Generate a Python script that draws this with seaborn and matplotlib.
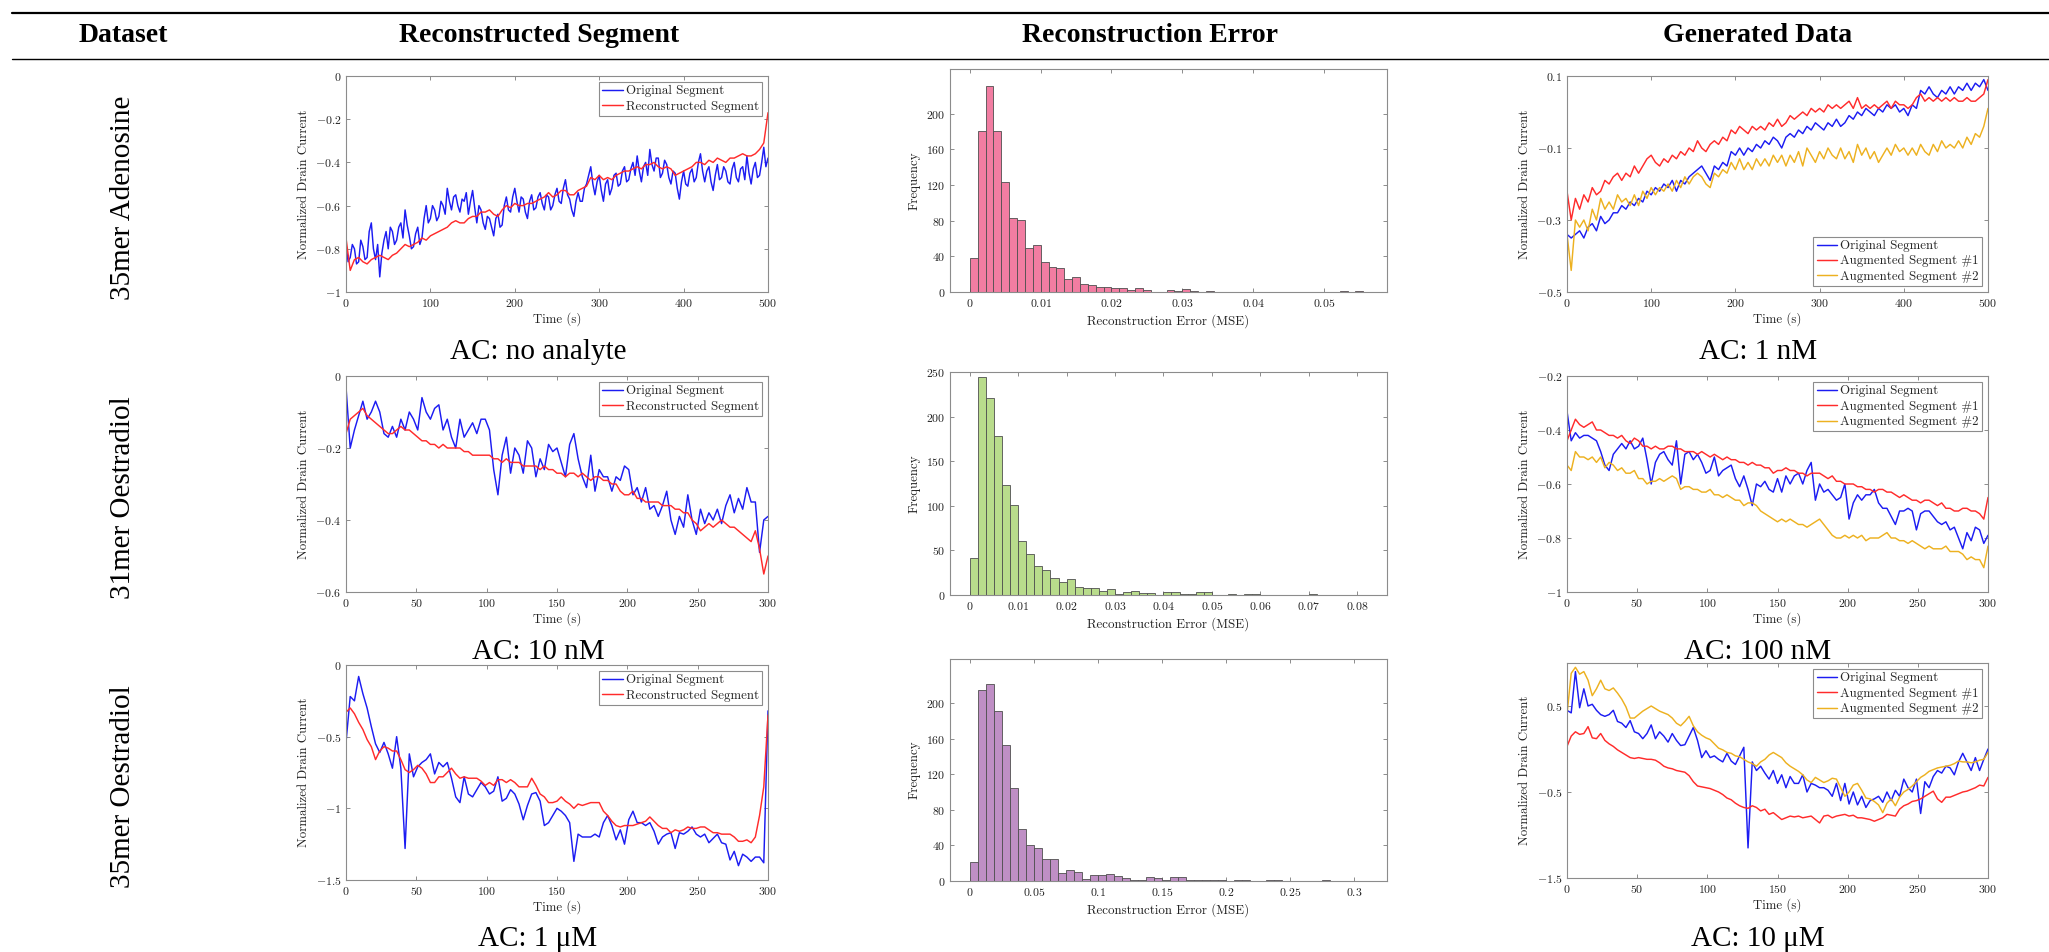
import numpy as np
import pandas as pd
import matplotlib
matplotlib.use("Agg")
import matplotlib.pyplot as plt
import seaborn as sns
from matplotlib.ticker import FuncFormatter
from matplotlib.lines import Line2D
from matplotlib.font_manager import FontProperties

# ---------------------------------------------------------------- data
# Row 1: 35mer Adenosine, 500 s segments
adeno_original_step = 2.5
adeno_original = [
    -0.78, -0.86, -0.84, -0.78, -0.80, -0.87, -0.86, -0.76, -0.79, -0.85,
    -0.84, -0.72, -0.68, -0.80, -0.85, -0.78, -0.93, -0.82, -0.76, -0.72,
    -0.80, -0.70, -0.72, -0.78, -0.76, -0.70, -0.68, -0.75, -0.62, -0.69,
    -0.74, -0.80, -0.79, -0.73, -0.70, -0.78, -0.75, -0.66, -0.60, -0.68,
    -0.66, -0.60, -0.62, -0.67, -0.65, -0.58, -0.60, -0.64, -0.52, -0.58,
    -0.62, -0.56, -0.55, -0.60, -0.63, -0.57, -0.58, -0.54, -0.64, -0.58,
    -0.53, -0.61, -0.68, -0.60, -0.62, -0.68, -0.71, -0.65, -0.66, -0.70,
    -0.74, -0.66, -0.64, -0.70, -0.69, -0.60, -0.56, -0.62, -0.63, -0.56,
    -0.52, -0.58, -0.63, -0.56, -0.57, -0.63, -0.66, -0.58, -0.55, -0.62,
    -0.61, -0.56, -0.54, -0.59, -0.62, -0.55, -0.56, -0.62, -0.60, -0.55,
    -0.52, -0.58, -0.59, -0.52, -0.48, -0.55, -0.57, -0.62, -0.65, -0.58,
    -0.54, -0.58, -0.58, -0.52, -0.50, -0.46, -0.42, -0.50, -0.55, -0.49,
    -0.46, -0.53, -0.58, -0.50, -0.48, -0.55, -0.52, -0.46, -0.45, -0.51,
    -0.50, -0.44, -0.42, -0.49, -0.48, -0.43, -0.40, -0.46, -0.37, -0.44,
    -0.49, -0.42, -0.40, -0.46, -0.34, -0.41, -0.44, -0.38, -0.38, -0.47,
    -0.45, -0.39, -0.41, -0.47, -0.50, -0.44, -0.45, -0.52, -0.57, -0.49,
    -0.44, -0.50, -0.51, -0.45, -0.43, -0.49, -0.47, -0.40, -0.36, -0.44,
    -0.49, -0.44, -0.42, -0.49, -0.53, -0.46, -0.41, -0.48, -0.47, -0.42,
    -0.44, -0.49, -0.50, -0.43, -0.40, -0.47, -0.49, -0.43, -0.42, -0.48,
    -0.37, -0.45, -0.50, -0.43, -0.40, -0.47, -0.46, -0.40, -0.33, -0.42,
    -0.38]
adeno_step = 5
adeno_reconstructed = [
    -0.75, -0.90, -0.85, -0.84, -0.86, -0.87, -0.85, -0.84, -0.83, -0.84,
    -0.85, -0.83, -0.82, -0.80, -0.78, -0.79, -0.78, -0.77, -0.75, -0.76,
    -0.74, -0.73, -0.72, -0.71, -0.70, -0.68, -0.67, -0.68, -0.68, -0.66,
    -0.65, -0.65, -0.63, -0.63, -0.62, -0.64, -0.65, -0.62, -0.60, -0.61,
    -0.59, -0.60, -0.60, -0.59, -0.59, -0.58, -0.57, -0.56, -0.54, -0.56,
    -0.55, -0.53, -0.53, -0.55, -0.55, -0.53, -0.52, -0.51, -0.47, -0.48,
    -0.46, -0.48, -0.47, -0.48, -0.46, -0.45, -0.44, -0.44, -0.43, -0.42,
    -0.43, -0.41, -0.41, -0.40, -0.42, -0.43, -0.42, -0.43, -0.46, -0.45,
    -0.44, -0.43, -0.42, -0.40, -0.40, -0.41, -0.39, -0.40, -0.38, -0.39,
    -0.40, -0.38, -0.38, -0.37, -0.36, -0.37, -0.37, -0.36, -0.34, -0.31,
    -0.17]
adeno_gen_original = [
    -0.34, -0.35, -0.34, -0.33, -0.35, -0.32, -0.31, -0.33, -0.29, -0.31,
    -0.30, -0.28, -0.28, -0.26, -0.27, -0.25, -0.26, -0.24, -0.25, -0.22,
    -0.23, -0.21, -0.22, -0.20, -0.21, -0.19, -0.22, -0.19, -0.20, -0.18,
    -0.17, -0.16, -0.15, -0.17, -0.19, -0.15, -0.16, -0.14, -0.15, -0.11,
    -0.12, -0.10, -0.12, -0.10, -0.11, -0.09, -0.10, -0.08, -0.09, -0.07,
    -0.08, -0.10, -0.07, -0.06, -0.07, -0.05, -0.06, -0.04, -0.05, -0.03,
    -0.04, -0.05, -0.03, -0.04, -0.02, -0.04, -0.03, -0.01, -0.02, 0.00,
    -0.01, 0.01, 0.00, -0.01, 0.01, 0.00, 0.02, 0.01, 0.02, 0.00,
    0.01, -0.01, 0.02, 0.01, 0.06, 0.05, 0.07, 0.05, 0.04, 0.06,
    0.05, 0.07, 0.05, 0.07, 0.06, 0.08, 0.06, 0.08, 0.07, 0.09,
    0.06]
adeno_aug1 = [
    -0.22, -0.30, -0.24, -0.27, -0.23, -0.25, -0.21, -0.23, -0.22, -0.19,
    -0.20, -0.18, -0.17, -0.19, -0.17, -0.18, -0.15, -0.17, -0.15, -0.13,
    -0.12, -0.14, -0.15, -0.13, -0.14, -0.12, -0.13, -0.11, -0.12, -0.10,
    -0.11, -0.08, -0.10, -0.11, -0.09, -0.08, -0.09, -0.07, -0.08, -0.05,
    -0.06, -0.04, -0.05, -0.06, -0.04, -0.05, -0.04, -0.05, -0.03, -0.04,
    -0.02, -0.04, -0.03, -0.01, -0.02, -0.01, 0.00, -0.01, 0.01, 0.00,
    0.01, 0.00, 0.02, 0.01, 0.02, 0.01, 0.02, 0.03, 0.01, 0.04,
    0.01, 0.02, 0.01, 0.02, 0.01, 0.02, 0.03, 0.01, 0.03, 0.02,
    0.02, 0.01, 0.02, 0.04, 0.05, 0.03, 0.04, 0.03, 0.04, 0.03,
    0.04, 0.03, 0.04, 0.03, 0.03, 0.04, 0.03, 0.03, 0.04, 0.05,
    0.09]
adeno_aug2 = [
    -0.34, -0.44, -0.30, -0.32, -0.30, -0.33, -0.27, -0.30, -0.24, -0.27,
    -0.25, -0.27, -0.23, -0.25, -0.24, -0.26, -0.23, -0.26, -0.22, -0.24,
    -0.21, -0.23, -0.21, -0.22, -0.20, -0.22, -0.19, -0.21, -0.18, -0.20,
    -0.18, -0.17, -0.18, -0.20, -0.21, -0.17, -0.18, -0.16, -0.17, -0.14,
    -0.16, -0.13, -0.16, -0.14, -0.16, -0.13, -0.15, -0.13, -0.15, -0.12,
    -0.14, -0.12, -0.15, -0.12, -0.14, -0.11, -0.15, -0.10, -0.12, -0.14,
    -0.11, -0.13, -0.10, -0.12, -0.13, -0.10, -0.13, -0.11, -0.14, -0.09,
    -0.12, -0.10, -0.13, -0.11, -0.14, -0.12, -0.10, -0.12, -0.09, -0.11,
    -0.10, -0.12, -0.10, -0.12, -0.09, -0.11, -0.12, -0.09, -0.11, -0.08,
    -0.10, -0.09, -0.10, -0.08, -0.10, -0.07, -0.09, -0.06, -0.07, -0.04,
    0.01]

# Row 2: 31mer Oestradiol, 300 s segments sampled every 3 s
oest_step = 3
oest31_original = [
    -0.03, -0.20, -0.15, -0.11, -0.07, -0.12, -0.10, -0.07, -0.10, -0.16,
    -0.17, -0.14, -0.17, -0.12, -0.15, -0.10, -0.12, -0.15, -0.06, -0.10,
    -0.12, -0.09, -0.08, -0.15, -0.12, -0.17, -0.20, -0.12, -0.17, -0.15,
    -0.13, -0.16, -0.12, -0.12, -0.15, -0.26, -0.33, -0.22, -0.17, -0.27,
    -0.20, -0.22, -0.27, -0.18, -0.20, -0.28, -0.23, -0.26, -0.19, -0.21,
    -0.20, -0.24, -0.28, -0.19, -0.16, -0.23, -0.28, -0.31, -0.22, -0.32,
    -0.26, -0.28, -0.28, -0.32, -0.28, -0.29, -0.25, -0.26, -0.33, -0.31,
    -0.35, -0.31, -0.37, -0.36, -0.39, -0.36, -0.32, -0.40, -0.44, -0.39,
    -0.42, -0.33, -0.40, -0.44, -0.37, -0.41, -0.38, -0.40, -0.37, -0.41,
    -0.36, -0.33, -0.38, -0.34, -0.37, -0.31, -0.35, -0.35, -0.49, -0.40,
    -0.39]
oest31_reconstructed = [
    -0.16, -0.12, -0.11, -0.10, -0.09, -0.11, -0.12, -0.13, -0.14, -0.15,
    -0.16, -0.16, -0.15, -0.14, -0.15, -0.15, -0.16, -0.17, -0.18, -0.18,
    -0.19, -0.19, -0.20, -0.19, -0.20, -0.20, -0.20, -0.20, -0.21, -0.21,
    -0.22, -0.22, -0.22, -0.22, -0.22, -0.23, -0.23, -0.24, -0.23, -0.24,
    -0.24, -0.24, -0.25, -0.25, -0.25, -0.25, -0.26, -0.25, -0.26, -0.26,
    -0.27, -0.27, -0.28, -0.27, -0.27, -0.28, -0.27, -0.28, -0.29, -0.28,
    -0.28, -0.29, -0.29, -0.30, -0.30, -0.32, -0.33, -0.33, -0.32, -0.34,
    -0.34, -0.35, -0.35, -0.35, -0.35, -0.36, -0.36, -0.36, -0.37, -0.37,
    -0.38, -0.38, -0.40, -0.41, -0.43, -0.42, -0.41, -0.42, -0.41, -0.40,
    -0.41, -0.42, -0.42, -0.43, -0.44, -0.45, -0.46, -0.43, -0.48, -0.55,
    -0.50]
oest31_gen_original = [
    -0.33, -0.44, -0.41, -0.43, -0.42, -0.42, -0.43, -0.44, -0.48, -0.53,
    -0.55, -0.49, -0.47, -0.45, -0.47, -0.44, -0.47, -0.46, -0.43, -0.51,
    -0.60, -0.52, -0.49, -0.48, -0.51, -0.53, -0.44, -0.60, -0.49, -0.48,
    -0.51, -0.49, -0.52, -0.56, -0.55, -0.50, -0.57, -0.55, -0.54, -0.53,
    -0.58, -0.61, -0.57, -0.62, -0.68, -0.60, -0.61, -0.59, -0.62, -0.63,
    -0.58, -0.63, -0.57, -0.60, -0.57, -0.56, -0.60, -0.55, -0.52, -0.66,
    -0.60, -0.63, -0.62, -0.64, -0.66, -0.65, -0.60, -0.73, -0.67, -0.64,
    -0.66, -0.64, -0.64, -0.62, -0.67, -0.69, -0.69, -0.72, -0.75, -0.70,
    -0.70, -0.69, -0.70, -0.77, -0.71, -0.70, -0.70, -0.72, -0.74, -0.75,
    -0.74, -0.77, -0.76, -0.80, -0.84, -0.78, -0.81, -0.76, -0.77, -0.82,
    -0.79]
oest31_aug1 = [
    -0.44, -0.40, -0.36, -0.38, -0.39, -0.38, -0.37, -0.40, -0.40, -0.41,
    -0.42, -0.42, -0.43, -0.42, -0.44, -0.45, -0.43, -0.44, -0.46, -0.46,
    -0.47, -0.46, -0.47, -0.47, -0.46, -0.46, -0.47, -0.47, -0.48, -0.48,
    -0.48, -0.49, -0.48, -0.49, -0.50, -0.49, -0.50, -0.51, -0.50, -0.51,
    -0.51, -0.52, -0.52, -0.53, -0.52, -0.53, -0.53, -0.54, -0.54, -0.56,
    -0.55, -0.55, -0.54, -0.55, -0.55, -0.56, -0.56, -0.57, -0.56, -0.56,
    -0.56, -0.57, -0.58, -0.57, -0.59, -0.59, -0.60, -0.60, -0.60, -0.61,
    -0.61, -0.62, -0.62, -0.63, -0.62, -0.62, -0.63, -0.63, -0.64, -0.65,
    -0.64, -0.65, -0.66, -0.66, -0.67, -0.66, -0.66, -0.67, -0.68, -0.67,
    -0.69, -0.69, -0.70, -0.70, -0.69, -0.69, -0.70, -0.70, -0.71, -0.73,
    -0.65]
oest31_aug2 = [
    -0.53, -0.55, -0.48, -0.50, -0.50, -0.51, -0.50, -0.52, -0.50, -0.54,
    -0.52, -0.53, -0.55, -0.54, -0.56, -0.56, -0.55, -0.58, -0.58, -0.60,
    -0.59, -0.59, -0.58, -0.59, -0.58, -0.57, -0.58, -0.62, -0.61, -0.61,
    -0.62, -0.62, -0.63, -0.63, -0.62, -0.64, -0.64, -0.65, -0.64, -0.65,
    -0.66, -0.66, -0.68, -0.67, -0.67, -0.68, -0.70, -0.71, -0.72, -0.73,
    -0.74, -0.73, -0.74, -0.73, -0.74, -0.75, -0.75, -0.76, -0.75, -0.74,
    -0.73, -0.75, -0.77, -0.79, -0.80, -0.80, -0.79, -0.80, -0.79, -0.80,
    -0.79, -0.81, -0.80, -0.80, -0.80, -0.79, -0.78, -0.80, -0.80, -0.81,
    -0.81, -0.82, -0.81, -0.82, -0.83, -0.84, -0.83, -0.84, -0.84, -0.84,
    -0.83, -0.85, -0.85, -0.85, -0.86, -0.88, -0.87, -0.88, -0.88, -0.91,
    -0.83]

# Row 3: 35mer Oestradiol, 300 s segments sampled every 3 s
oest35_original = [
    -0.54, -0.22, -0.25, -0.08, -0.20, -0.30, -0.43, -0.55, -0.61, -0.54,
    -0.62, -0.72, -0.50, -0.72, -1.28, -0.62, -0.78, -0.71, -0.68, -0.66,
    -0.62, -0.76, -0.68, -0.71, -0.68, -0.79, -0.92, -0.96, -0.78, -0.90,
    -0.92, -0.87, -0.82, -0.85, -0.90, -0.88, -0.78, -0.95, -0.93, -0.87,
    -0.90, -0.97, -1.08, -0.98, -0.90, -0.89, -0.95, -1.12, -1.10, -1.05,
    -1.00, -1.02, -1.05, -1.10, -1.37, -1.18, -1.20, -1.20, -1.20, -1.18,
    -1.20, -1.10, -1.05, -1.12, -1.22, -1.15, -1.25, -1.08, -1.02, -1.10,
    -1.10, -1.12, -1.10, -1.16, -1.25, -1.20, -1.18, -1.17, -1.28, -1.17,
    -1.18, -1.16, -1.13, -1.18, -1.20, -1.18, -1.24, -1.21, -1.18, -1.24,
    -1.25, -1.36, -1.30, -1.40, -1.32, -1.34, -1.37, -1.34, -1.34, -1.38,
    -0.32]
oest35_reconstructed = [
    -0.33, -0.30, -0.34, -0.40, -0.45, -0.52, -0.57, -0.66, -0.60, -0.57,
    -0.58, -0.60, -0.60, -0.66, -0.73, -0.75, -0.73, -0.70, -0.72, -0.76,
    -0.82, -0.82, -0.78, -0.78, -0.75, -0.72, -0.76, -0.79, -0.78, -0.79,
    -0.79, -0.79, -0.81, -0.84, -0.82, -0.84, -0.80, -0.80, -0.82, -0.80,
    -0.82, -0.85, -0.85, -0.85, -0.79, -0.84, -0.90, -0.92, -0.96, -0.96,
    -0.95, -0.92, -0.95, -0.97, -1.00, -0.97, -0.98, -0.97, -0.96, -0.96,
    -0.96, -1.02, -1.05, -1.09, -1.12, -1.13, -1.12, -1.12, -1.12, -1.11,
    -1.10, -1.09, -1.06, -1.09, -1.12, -1.14, -1.14, -1.17, -1.15, -1.16,
    -1.15, -1.13, -1.14, -1.14, -1.13, -1.13, -1.15, -1.17, -1.17, -1.18,
    -1.18, -1.18, -1.20, -1.23, -1.23, -1.22, -1.24, -1.20, -1.05, -0.85,
    -0.35]
oest35_gen_original = [
    0.45, 0.42, 0.90, 0.48, 0.70, 0.50, 0.52, 0.45, 0.40, 0.38,
    0.40, 0.45, 0.32, 0.30, 0.25, 0.33, 0.20, 0.18, 0.12, 0.18,
    0.28, 0.12, 0.20, 0.15, 0.08, 0.18, 0.10, 0.04, 0.05, 0.15,
    0.25, 0.10, -0.10, -0.02, -0.10, -0.08, -0.12, -0.15, -0.05, -0.14,
    -0.18, -0.08, 0.02, -1.15, -0.15, -0.25, -0.20, -0.28, -0.35, -0.25,
    -0.40, -0.30, -0.45, -0.32, -0.40, -0.40, -0.30, -0.50, -0.40, -0.42,
    -0.45, -0.45, -0.48, -0.55, -0.40, -0.60, -0.40, -0.64, -0.50, -0.65,
    -0.55, -0.68, -0.60, -0.58, -0.55, -0.62, -0.50, -0.60, -0.48, -0.55,
    -0.35, -0.45, -0.50, -0.35, -0.75, -0.38, -0.45, -0.32, -0.25, -0.28,
    -0.20, -0.22, -0.30, -0.15, -0.05, -0.15, -0.25, -0.10, -0.25, -0.12,
    0.00]
oest35_aug1 = [
    0.03, 0.15, 0.20, 0.17, 0.18, 0.26, 0.13, 0.12, 0.18, 0.10,
    0.06, 0.03, -0.01, -0.04, -0.07, -0.10, -0.11, -0.10, -0.11, -0.12,
    -0.12, -0.13, -0.16, -0.20, -0.22, -0.23, -0.25, -0.26, -0.27, -0.31,
    -0.38, -0.43, -0.44, -0.45, -0.46, -0.48, -0.50, -0.53, -0.57, -0.59,
    -0.63, -0.66, -0.68, -0.69, -0.66, -0.68, -0.72, -0.70, -0.76, -0.74,
    -0.78, -0.82, -0.80, -0.78, -0.79, -0.78, -0.80, -0.79, -0.78, -0.82,
    -0.86, -0.78, -0.77, -0.80, -0.78, -0.77, -0.76, -0.78, -0.77, -0.80,
    -0.80, -0.81, -0.82, -0.84, -0.82, -0.80, -0.76, -0.77, -0.78, -0.70,
    -0.66, -0.64, -0.61, -0.60, -0.58, -0.55, -0.52, -0.49, -0.58, -0.62,
    -0.56, -0.56, -0.54, -0.52, -0.50, -0.49, -0.47, -0.45, -0.42, -0.43,
    -0.33]
oest35_aug2 = [
    0.40, 0.88, 0.95, 0.87, 0.90, 0.80, 0.62, 0.70, 0.80, 0.70,
    0.68, 0.71, 0.65, 0.58, 0.49, 0.36, 0.36, 0.40, 0.44, 0.47,
    0.50, 0.47, 0.44, 0.42, 0.40, 0.36, 0.30, 0.27, 0.32, 0.38,
    0.27, 0.20, 0.16, 0.13, 0.11, 0.06, 0.01, -0.01, -0.04, -0.05,
    -0.08, -0.09, -0.12, -0.15, -0.17, -0.20, -0.15, -0.12, -0.07, -0.04,
    -0.07, -0.10, -0.16, -0.20, -0.23, -0.26, -0.30, -0.36, -0.39, -0.33,
    -0.36, -0.39, -0.37, -0.34, -0.35, -0.45, -0.55, -0.50, -0.42, -0.40,
    -0.48, -0.57, -0.58, -0.61, -0.65, -0.74, -0.63, -0.58, -0.66, -0.56,
    -0.50, -0.47, -0.43, -0.38, -0.33, -0.30, -0.26, -0.24, -0.22, -0.21,
    -0.20, -0.19, -0.17, -0.14, -0.15, -0.15, -0.16, -0.15, -0.13, -0.12,
    -0.04]

# Reconstruction-error histograms: bin width and counts per bin
adeno_err_bin = 0.01 / 9
adeno_err_counts = [38, 181, 231, 181, 123, 83, 81, 49, 53, 34,
                    28, 27, 15, 17, 9, 8, 6, 6, 5, 4,
                    2, 4, 2, 0, 0, 2, 1, 3, 1, 0,
                    1, 0, 0, 0, 0, 0, 0, 0, 0, 0,
                    0, 0, 0, 0, 0, 0, 0, 1, 0, 1]
oest31_err_bin = 0.01 / 6
oest31_err_counts = [41, 244, 221, 178, 123, 101, 61, 46, 32, 28,
                     19, 15, 18, 9, 8, 8, 4, 7, 1, 3,
                     4, 2, 2, 0, 3, 3, 1, 1, 3, 3,
                     0, 0, 1, 0, 1, 1, 0, 0, 0, 0,
                     0, 0, 1]
oest35_err_bin = 0.00625
oest35_err_counts = [21, 215, 222, 191, 153, 105, 59, 41, 37, 25,
                     25, 9, 12, 10, 2, 7, 7, 8, 6, 3,
                     1, 1, 4, 3, 1, 5, 4, 1, 1, 1,
                     1, 1, 0, 1, 1, 0, 0, 1, 1, 0,
                     0, 0, 0, 0, 1]

dataset_names = ["35mer Adenosine", "31mer Oestradiol", "35mer Oestradiol"]
column_titles = ["Dataset", "Reconstructed Segment", "Reconstruction Error", "Generated Data"]
recon_captions = ["AC: no analyte", "AC: 10 nM", "AC: 1 \u03bcM"]
gen_captions = ["AC: 1 nM", "AC: 100 nM", "AC: 10 \u03bcM"]
recon_names = ["Original Segment", "Reconstructed Segment"]
gen_names = ["Original Segment", "Augmented Segment #1", "Augmented Segment #2"]

# ---------------------------------------------------------------- style
sns.set_theme(style="white")
plt.rcParams["mathtext.fontset"] = "cm"
plt.rcParams["axes.unicode_minus"] = True

CM = ["cmr10", "DejaVu Serif"]
SERIF = ["Liberation Serif", "DejaVu Serif"]
FRAME = "#8c8c8c"
BLUE = "#1c1cf2"
RED = "#ff2b2b"
GOLD = "#EDB120"
HIST_EDGE = "#4f4f4f"
LABEL_SIZE = 9.3
TICK_SIZE = 8.5

W, H = 2049, 952
fig = plt.figure(figsize=(W / 100, H / 100), dpi=100)
fig.patch.set_facecolor("white")


def rect(x0, y0, x1, y1):
    return [x0 / W, 1 - y1 / H, (x1 - x0) / W, (y1 - y0) / H]


def style_axes(ax, xlim, xticks, ylim, yticks):
    ax.set_xlim(xlim)
    ax.set_ylim(ylim)
    ax.set_xticks(xticks)
    ax.set_yticks(yticks)
    fmt = FuncFormatter(lambda v, p: f"${v:g}$")
    ax.xaxis.set_major_formatter(fmt)
    ax.yaxis.set_major_formatter(fmt)
    ax.tick_params(direction="in", length=3, width=0.7, color=FRAME,
                   labelsize=TICK_SIZE, labelcolor="#222222",
                   top=True, right=True, bottom=True, left=True, pad=3.5)
    for s in ax.spines.values():
        s.set_visible(True)
        s.set_color(FRAME)
        s.set_linewidth(0.8)
    ax.grid(False)
    ax.set_facecolor("white")


def line_panel(box, series, xlim, xticks, ylim, yticks, loc):
    ax = fig.add_axes(rect(*box))
    names = []
    for name, step, vals, color in series:
        frame = pd.DataFrame({"time": np.arange(len(vals)) * step, "current": vals})
        sns.lineplot(data=frame, x="time", y="current", ax=ax, color=color,
                     linewidth=1.05, estimator=None, sort=False, legend=False)
        names.append(name)
    style_axes(ax, xlim, xticks, ylim, yticks)
    leg = ax.legend(ax.lines, names, loc=loc,
                    prop=FontProperties(family=CM, size=LABEL_SIZE),
                    frameon=True, fancybox=False, edgecolor=FRAME,
                    framealpha=1, borderpad=0.25, labelspacing=0.22,
                    handlelength=1.6, handletextpad=0.25, borderaxespad=0.45)
    leg.get_frame().set_linewidth(0.8)
    h = box[3] - box[1]
    w = box[2] - box[0]
    ax.set_xlabel("Time (s)", fontfamily=CM, fontsize=LABEL_SIZE, color="#222222")
    ax.xaxis.set_label_coords(0.5, -27 / h)
    ax.xaxis.label.set_va("center")
    ax.set_ylabel("Normalized Drain Current", fontfamily=CM,
                  fontsize=LABEL_SIZE, color="#222222")
    ax.yaxis.set_label_coords(-42 / w, 0.5)
    ax.yaxis.label.set_va("center")
    return ax


def hist_panel(box, counts, width, color, xlim, xticks, yticks):
    ax = fig.add_axes(rect(*box))
    counts = np.asarray(counts, dtype=float)
    edges = np.arange(len(counts) + 1) * width
    frame = pd.DataFrame({"mse": (edges[:-1] + edges[1:]) / 2, "count": counts})
    sns.histplot(data=frame, x="mse", weights="count", bins=list(edges), ax=ax,
                 color=color, alpha=1, edgecolor=HIST_EDGE, linewidth=0.6)
    for p in ax.patches:
        if p.get_height() == 0:
            p.set_visible(False)
    style_axes(ax, xlim, xticks, (0, 250), yticks)
    h = box[3] - box[1]
    w = box[2] - box[0]
    ax.set_xlabel("Reconstruction Error (MSE)", fontfamily=CM,
                  fontsize=LABEL_SIZE, color="#222222")
    ax.xaxis.set_label_coords(0.5, -29 / h)
    ax.xaxis.label.set_va("center")
    ax.set_ylabel("Frequency", fontfamily=CM, fontsize=LABEL_SIZE, color="#222222")
    ax.yaxis.set_label_coords(-35 / w, 0.5)
    ax.yaxis.label.set_va("center")
    return ax


# ---------------------------------------------------------------- table frame
fig.add_artist(Line2D([12 / W, 1.0], [1 - 13 / H] * 2, color="black", lw=1.6))
fig.add_artist(Line2D([12 / W, 1.0], [1 - 59 / H] * 2, color="black", lw=1.0))
for title, xc in zip(column_titles, [123, 539, 1150, 1758]):
    fig.text(xc / W, 1 - 36 / H, title, ha="center", va="center",
             fontfamily=SERIF, fontweight="bold", fontsize=20, color="black")

for name, yc in zip(dataset_names, [198, 498, 787]):
    fig.text(123 / W, 1 - yc / H, name, rotation=90, ha="center", va="center",
             fontfamily=SERIF, fontsize=21, color="black")

# ---------------------------------------------------------------- row 1
line_panel((346, 76, 768, 292),
           [(recon_names[0], adeno_original_step, adeno_original, BLUE),
            (recon_names[1], adeno_step, adeno_reconstructed, RED)],
           (0, 500), [0, 100, 200, 300, 400, 500],
           (-1, 0), [-1, -0.8, -0.6, -0.4, -0.2, 0], "upper right")
hist_panel((950, 69, 1387, 292), adeno_err_counts, adeno_err_bin, "#F27DA2",
           (-0.0028, 0.0589), [0, 0.01, 0.02, 0.03, 0.04, 0.05],
           [0, 40, 80, 120, 160, 200])
line_panel((1567, 76, 1988, 292),
           [(gen_names[0], adeno_step, adeno_gen_original, BLUE),
            (gen_names[1], adeno_step, adeno_aug1, RED),
            (gen_names[2], adeno_step, adeno_aug2, GOLD)],
           (0, 500), [0, 100, 200, 300, 400, 500],
           (-0.5, 0.1), [-0.5, -0.3, -0.1, 0.1], "lower right")

# ---------------------------------------------------------------- row 2
line_panel((346, 376, 768, 592),
           [(recon_names[0], oest_step, oest31_original, BLUE),
            (recon_names[1], oest_step, oest31_reconstructed, RED)],
           (0, 300), [0, 50, 100, 150, 200, 250, 300],
           (-0.6, 0), [-0.6, -0.4, -0.2, 0], "upper right")
hist_panel((950, 372, 1387, 595), oest31_err_counts, oest31_err_bin, "#B9DC8C",
           (-0.0041, 0.0862), [0, 0.01, 0.02, 0.03, 0.04, 0.05, 0.06, 0.07, 0.08],
           [0, 50, 100, 150, 200, 250])
line_panel((1567, 376, 1988, 592),
           [(gen_names[0], oest_step, oest31_gen_original, BLUE),
            (gen_names[1], oest_step, oest31_aug1, RED),
            (gen_names[2], oest_step, oest31_aug2, GOLD)],
           (0, 300), [0, 50, 100, 150, 200, 250, 300],
           (-1, -0.2), [-1, -0.8, -0.6, -0.4, -0.2], "upper right")

# ---------------------------------------------------------------- row 3
line_panel((346, 665, 768, 880),
           [(recon_names[0], oest_step, oest35_original, BLUE),
            (recon_names[1], oest_step, oest35_reconstructed, RED)],
           (0, 300), [0, 50, 100, 150, 200, 250, 300],
           (-1.5, 0), [-1.5, -1, -0.5, 0], "upper right")
hist_panel((950, 659, 1387, 881), oest35_err_counts, oest35_err_bin, "#BF8FC5",
           (-0.0156, 0.3255), [0, 0.05, 0.1, 0.15, 0.2, 0.25, 0.3],
           [0, 40, 80, 120, 160, 200])
line_panel((1567, 663, 1988, 878),
           [(gen_names[0], oest_step, oest35_gen_original, BLUE),
            (gen_names[1], oest_step, oest35_aug1, RED),
            (gen_names[2], oest_step, oest35_aug2, GOLD)],
           (0, 300), [0, 50, 100, 150, 200, 250, 300],
           (-1.5, 1.0), [-1.5, -0.5, 0.5], "upper right")

# ---------------------------------------------------------------- captions
for cap, yb in zip(recon_captions, [359, 659, 946]):
    fig.text(538 / W, 1 - yb / H, cap, ha="center", va="baseline",
             fontfamily=SERIF, fontsize=21, color="black")
for cap, yb in zip(gen_captions, [359, 659, 946]):
    fig.text(1758 / W, 1 - yb / H, cap, ha="center", va="baseline",
             fontfamily=SERIF, fontsize=21, color="black")

fig.savefig("out.png", dpi=100, facecolor="white")
